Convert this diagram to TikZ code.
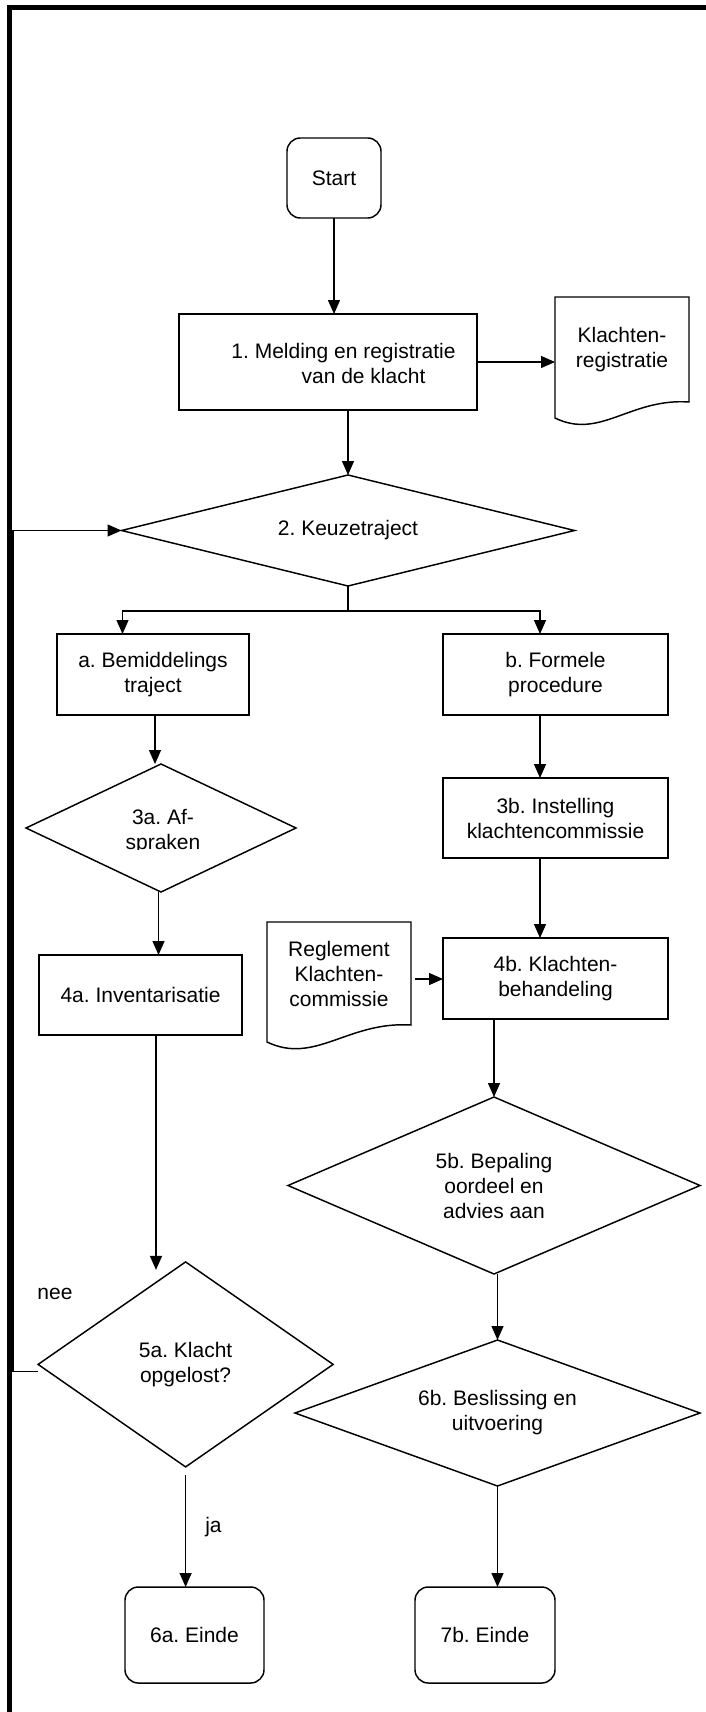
\documentclass[tikz,border=0pt]{standalone}
\usepackage{fontspec}
\setmainfont{Liberation Sans}
\usetikzlibrary{shapes.geometric,arrows.meta,calc}
\newcommand{\pxu}{0.75pt}
\frenchspacing
\begin{document}
\begin{tikzpicture}[x=0.75pt,y=-0.75pt,
  every node/.style={font=\fontsize{15.75pt}{18.75pt}\selectfont\frenchspacing, align=center, inner sep=0pt, outer sep=0pt},
  box/.style={draw, line width=1.1pt, rectangle},
  term/.style={draw, line width=1.1pt, rectangle, rounded corners=10pt},
  dia/.style={draw, line width=1.1pt, diamond},
  docu/.style={rectangle, draw=none},
  docline/.style={line width=1.1pt},
  conn/.style={line width=1pt, -{Triangle[length=10.5pt,width=9pt]}},
  plain/.style={line width=1pt}
]
\useasboundingbox (0,0) rectangle (706,1712);
\clip (0,0) rectangle (706,1712);
% outer frame
\draw[line width=3.75pt] (9.5,1800) -- (9.5,7.5) -- (800,7.5);

% nodes
\node[term, minimum width=94*\pxu, minimum height=80*\pxu] (start) at (334,178) {Start};
\node[box, minimum width=298*\pxu, minimum height=96*\pxu] (b1) at (328,362) {};
\node (t1) at (343.5,363.5) {1. Melding en registratie\\\hspace*{30pt}van de klacht};
\node[docu, minimum width=134*\pxu, minimum height=105*\pxu] (doc1) at (622,349.5) {Klachten-\\registratie};
\draw[docline] (doc1.south east) -- (doc1.north east) -- (doc1.north west) -- ($(doc1.south west)+(0,16)$) .. controls +(45,22) and +(-59,-4) .. (doc1.south east) -- cycle;

\node[dia, minimum width=453*\pxu, minimum height=111*\pxu, shape aspect=4.08] (d2) at (348,530.5) {2. Keuzetraject};

\node[box, minimum width=192*\pxu, minimum height=81*\pxu] (ba) at (153,674.5) {a. Bemiddelings\\traject};
\node[box, minimum width=225*\pxu, minimum height=81*\pxu] (bb) at (555.5,674.5) {b. Formele\\procedure};

\node[dia, minimum width=270*\pxu, minimum height=128*\pxu] (d3a) at (161,828) {};
\begin{scope}
\clip (100,790) rectangle (230,849);
\node (t3a) at (163,831.5) {3a. Af-\\spraken};
\end{scope}

\node[box, minimum width=225*\pxu, minimum height=80*\pxu] (b3b) at (555.5,818) {3b. Instelling\\klachtencommissie};
\node[box, minimum width=203*\pxu, minimum height=80*\pxu] (b4a) at (140.5,995) {4a. Inventarisatie};
\node[box, minimum width=225*\pxu, minimum height=81*\pxu] (b4b) at (555.5,978.5) {4b. Klachten-\\behandeling};

\node[docu, minimum width=144*\pxu, minimum height=103*\pxu] (doc2) at (339,973.5) {Reglement\\Klachten-\\commissie};
\draw[docline] (doc2.south east) -- (doc2.north east) -- (doc2.north west) -- ($(doc2.south west)+(0,17)$) .. controls +(48,23) and +(-63,-4) .. (doc2.south east) -- cycle;

\node[dia, minimum width=412*\pxu, minimum height=177*\pxu, shape aspect=2.33] (d5b) at (494,1185.5) {5b. Bepaling\\oordeel en\\advies aan};
\node[dia, minimum width=295*\pxu, minimum height=205*\pxu, shape aspect=1.44] (d5a) at (185.6,1364.4) {5a. Klacht\\opgelost?};
\node[dia, minimum width=405*\pxu, minimum height=146*\pxu, shape aspect=2.77] (d6b) at (497.5,1413) {6b. Beslissing en\\uitvoering};

\node[term, minimum width=139*\pxu, minimum height=96*\pxu] (e6a) at (194.5,1635) {6a. Einde};
\node[term, minimum width=140*\pxu, minimum height=96*\pxu] (e7b) at (485,1635) {7b. Einde};

\node (nee) at (55,1294) {nee};
\node (ja) at (213.5,1527) {ja};

% connectors
\draw[conn] (start.south) -- (start.south |- b1.north);
\draw[conn] (b1.east) -- (b1.east -| doc1.west);
\draw[conn] (d2.north |- b1.south) -- (d2.north);
\draw[plain] (d2.south) -- ++(0,25) coordinate (split);
\draw[conn] (split) -| ($(ba.north west)+(65.5,0)$);
\draw[conn] (split) -| ($(bb.north west)+(97,0)$);
\draw[conn] ($(ba.south west)+(98,0)$) coordinate (pa) -- (pa |- d3a.north);
\draw[conn] ($(d3a.south)+(-2.5,0)$) coordinate (pb) -- (pb |- b4a.north);
\draw[conn] ($(bb.south west)+(97,0)$) coordinate (pc) -- (pc |- b3b.north);
\draw[conn] ($(b3b.south west)+(97,0)$) coordinate (pd) -- (pd |- b4b.north);
\draw[conn] ($(doc2.east)+(4,5.5)$) coordinate (pe) -- (pe -| b4b.west);
\draw[conn] (d5b.north |- b4b.south) -- (d5b.north);
\draw[conn] (d6b.north |- d5b.south) -- (d6b.north);
\draw[conn] (d6b.south) -- (d6b.south |- e7b.north);
\coordinate (t5a) at ($(d5a.north)+(0,8)$);
\draw[conn] ($(b4a.south west)+(117,0)$) coordinate (pf) -- (pf |- t5a);
\draw[conn] ($(d5a.south)+(0,8)$) -- (d5a.south |- e6a.north);
\draw[conn] ($(d5a.west)+(0,7)$) -- ++(-25,0) |- (d2.west);
\end{tikzpicture}
\end{document}
